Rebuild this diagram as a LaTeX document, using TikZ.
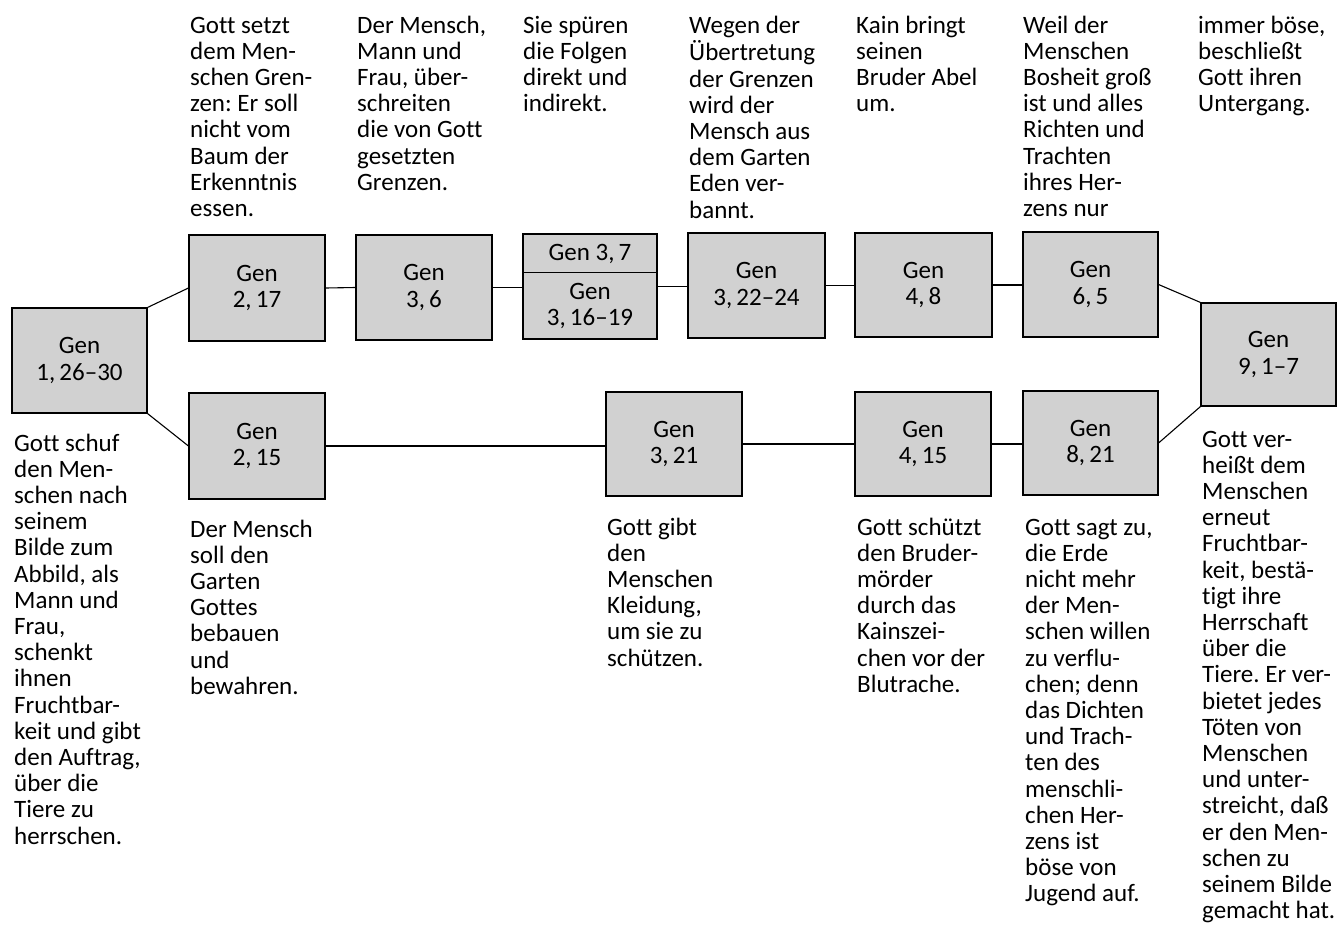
\documentclass[tikz,border=0pt]{standalone}
\usepackage{fontspec}
\setmainfont[Ligatures=NoCommon]{Carlito}
\frenchspacing
\newcommand{\bodyfont}{\fontsize{25}{26.2}\selectfont}
\newcommand{\txtcol}[1]{\begin{tabular}[t]{@{}l@{}}#1\end{tabular}}
\begin{document}
\begin{tikzpicture}[x=1pt,y=-1pt,
  box/.style={draw=black, line width=1.1pt, fill=black!18, inner sep=0pt, align=center, font=\bodyfont},
  boxtext/.style={inner sep=0pt, align=center, font=\bodyfont},
  link/.style={line width=1.1pt},
  txt/.style={anchor=base west, inner sep=0pt, font=\bodyfont}]
\useasboundingbox[fill=white] (0,0) rectangle (1341,926);

% boxes
\node[box, minimum width=135pt, minimum height=105pt] (A) at (79.5,360.5) {Gen\\1,\,26--30};
\node[box, minimum width=136pt, minimum height=106pt] (B) at (257,288) {Gen\\2,\,17};
\node[box, minimum width=136pt, minimum height=105pt] (C) at (424,287.5) {Gen\\3,\,6};
\node[box, minimum width=134pt, minimum height=105pt] (E) at (590,286.5) {};
\draw[link] ([yshift=-39pt]E.north west) -- ([yshift=-39pt]E.north east);
\node[boxtext] (E1) at (590,253.5) {Gen 3,\,7};
\node[boxtext] (E2) at (590,306) {Gen\\3,\,16--19};
\node[box, minimum width=137pt, minimum height=105pt] (F) at (756.5,285.5) {Gen\\3,\,22--24};
\node[box, minimum width=137pt, minimum height=104pt] (G) at (923.5,285) {Gen\\4,\,8};
\node[box, minimum width=135pt, minimum height=105pt] (H) at (1090.5,284.5) {Gen\\6,\,5};
\node[box, minimum width=135pt, minimum height=103pt] (I) at (1268.5,354.5) {Gen\\9,\,1--7};
\node[box, minimum width=136pt, minimum height=106pt] (D) at (257,446) {Gen\\2,\,15};
\node[box, minimum width=136pt, minimum height=104pt] (J) at (674,444) {Gen\\3,\,21};
\node[box, minimum width=136pt, minimum height=104pt] (K) at (923,444) {Gen\\4,\,15};
\node[box, minimum width=135pt, minimum height=104pt] (L) at (1090.5,443) {Gen\\8,\,21};

% connectors
\draw[link] (A.north east) -- (B.west);
\draw[link] (A.south east) -- (D.west);
\draw[link] (B.east) -- (C.west);
\draw[link] (C.east) -- (C.east -| E.west);
\draw[link] (E.east) -- (E.east -| F.west);
\draw[link] (F.east) -- (F.east -| G.west);
\draw[link] (G.east) -- (G.east -| H.west);
\draw[link] (H.east) -- (I.north west);
\draw[link] (D.east) -- (D.east -| J.west);
\draw[link] (J.east) -- (J.east -| K.west);
\draw[link] (K.east) -- (K.east -| L.west);
\draw[link] (L.east) -- (I.south west);

% top texts
\node[txt] (tB) at (190,33) {\txtcol{Gott setzt\\dem Men-\\schen Gren-\\zen: Er soll\\nicht vom\\Baum der\\Erkenntnis\\essen.}};
\node[txt] (tC) at (357,33) {\txtcol{Der Mensch,\\Mann und\\Frau, über-\\schreiten\\die von Gott\\gesetzten\\Grenzen.}};
\node[txt] (tE) at (523,33) {\txtcol{Sie spüren\\die Folgen\\direkt und\\indirekt.}};
\node[txt] (tF) at (689,33) {\txtcol{Wegen der\\Übertretung\\der Grenzen\\wird der\\Mensch aus\\dem Garten\\Eden ver-\\bannt.}};
\node[txt] (tG) at (856,33) {\txtcol{Kain bringt\\seinen\\Bruder Abel\\um.}};
\node[txt] (tH) at (1023,33) {\txtcol{Weil der\\Menschen\\Bosheit groß\\ist und alles\\Richten und\\Trachten\\ihres Her-\\zens nur}};
\node[txt] (tI) at (1198,33) {\txtcol{immer böse,\\beschließt\\Gott ihren\\Untergang.}};

% bottom texts
\node[txt] (bA) at (14,451) {\txtcol{Gott schuf\\den Men-\\schen nach\\seinem\\Bilde zum\\Abbild, als\\Mann und\\Frau,\\schenkt\\ihnen\\Fruchtbar-\\keit und gibt\\den Auftrag,\\über die\\Tiere zu\\herrschen.}};
\node[txt] (bD) at (190,537) {\txtcol{Der Mensch\\soll den\\Garten\\Gottes\\bebauen\\und\\bewahren.}};
\node[txt] (bJ) at (607,535) {\txtcol{Gott gibt\\den\\Menschen\\Kleidung,\\um sie zu\\schützen.}};
\node[txt] (bK) at (857,535) {\txtcol{Gott schützt\\den Bruder-\\mörder\\durch das\\Kainszei-\\chen vor der\\Blutrache.}};
\node[txt] (bL) at (1025,535) {\txtcol{Gott sagt zu,\\die Erde\\nicht mehr\\der Men-\\schen willen\\zu verflu-\\chen; denn\\das Dichten\\und Trach-\\ten des\\menschli-\\chen Her-\\zens ist\\böse von\\Jugend auf.}};
\node[txt] (bI) at (1202,447) {\txtcol{Gott ver-\\heißt dem\\Menschen\\erneut\\Fruchtbar-\\keit, bestä-\\tigt ihre\\Herrschaft\\über die\\Tiere. Er ver-\\bietet jedes\\Töten von\\Menschen\\und unter-\\streicht, daß\\er den Men-\\schen zu\\seinem Bilde\\gemacht hat.}};
\end{tikzpicture}
\end{document}
